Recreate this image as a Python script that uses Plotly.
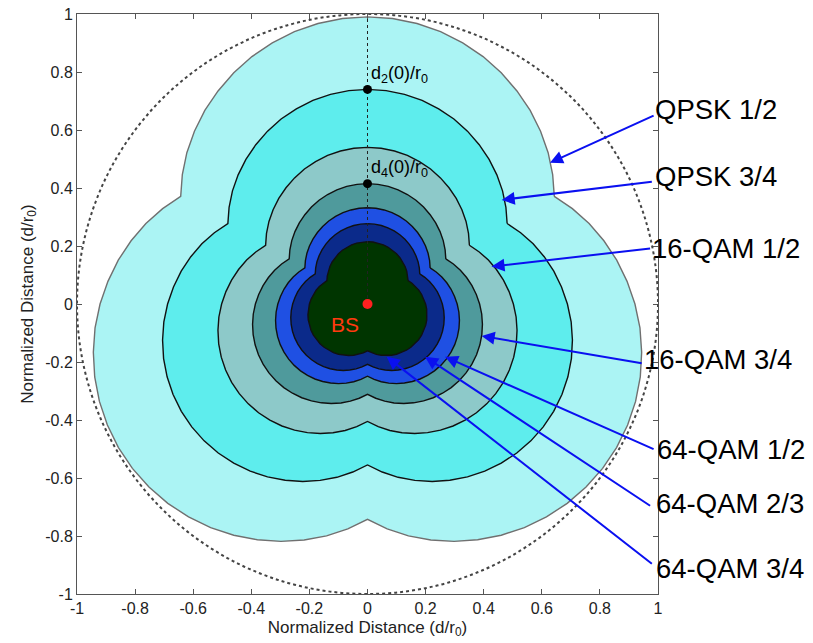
import numpy as np
import plotly.graph_objects as go

# ---------------- data ----------------
schemes = ["QPSK 1/2", "QPSK 3/4", "16-QAM 1/2", "16-QAM 3/4",
           "64-QAM 1/2", "64-QAM 2/3", "64-QAM 3/4"]
# boundary distance on a sector axis, d_k(0)/r0 (outer -> inner)
d_axis = [0.99, 0.74, 0.54, 0.415, 0.332, 0.277, 0.215]
# relative boundary radius vs. angular offset from the sector axis
lobe_offset_deg = [0, 5, 10, 15, 20, 25, 30, 35, 40, 45, 50, 55, 60]
lobe_ratio = [1.000, 0.998, 0.992, 0.982, 0.968, 0.951, 0.930,
              0.906, 0.880, 0.851, 0.820, 0.786, 0.750]
# sector axis directions (degrees, counter-clockwise from +x)
sector_axes_deg = [90, 210, 330]

marked_labels = ["d<sub>2</sub>(0)/r<sub>0</sub>", "d<sub>4</sub>(0)/r<sub>0</sub>"]
marked_index = [1, 3]
tick_vals = [-1, -0.8, -0.6, -0.4, -0.2, 0, 0.2, 0.4, 0.6, 0.8, 1]
tick_text = ["-1", "-0.8", "-0.6", "-0.4", "-0.2", "0", "0.2", "0.4", "0.6", "0.8", "1"]
unit_radius = 1.0

# ---------------- styles / positions ----------------
fill_colors = ["#ABF4F4", "#5EEDED", "#8DC9C9", "#4F9A9C", "#1F50E3", "#0B2A8A", "#003500"]
line_colors = ["#707070", "#111111", "#111111", "#111111", "#111111", "#111111", "#111111"]
label_pos = [(0.993, 0.669), (0.993, 0.438), (0.983, 0.193), (0.955, -0.193),
             (1.000, -0.503), (0.995, -0.689), (0.995, -0.913)]
arrow_tail = [(0.990, 0.652), (0.984, 0.422), (0.978, 0.192), (0.949, -0.205),
              (0.990, -0.503), (0.978, -0.699), (0.984, -0.900)]
arrow_head = [(0.628, 0.487), (0.462, 0.359), (0.427, 0.129), (0.393, -0.110),
              (0.267, -0.182), (0.198, -0.182), (0.066, -0.182)]
FONT = "Liberation Sans, Arial, sans-serif"

# full lobe profile (mirror the half)
off = np.array([-o for o in lobe_offset_deg[::-1]] + lobe_offset_deg[1:], dtype=float)
rat = np.array(lobe_ratio[::-1] + lobe_ratio[1:], dtype=float)

fig = go.Figure()

for name, d, fc, lc in zip(schemes, d_axis, fill_colors, line_colors):
    xs, ys = [], []
    for ax in sector_axes_deg:
        th = np.radians(ax + off)
        r = d * rat
        xs.extend(r * np.cos(th))
        ys.extend(r * np.sin(th))
    xs.append(xs[0]); ys.append(ys[0])
    fig.add_trace(go.Scatter(x=xs, y=ys, mode="lines", fill="toself",
                             fillcolor=fc, line=dict(color=lc, width=1.4),
                             name=name, showlegend=False, hoverinfo="skip"))

# vertical dotted line from BS along sector axis
fig.add_trace(go.Scatter(x=[0, 0], y=[0, unit_radius], mode="lines",
                         line=dict(color="#222222", width=1, dash="dot"),
                         showlegend=False, hoverinfo="skip"))
# marked points d2(0), d4(0)
fig.add_trace(go.Scatter(x=[0 for _ in marked_index], y=[d_axis[i] for i in marked_index],
                         mode="markers", marker=dict(color="black", size=9),
                         showlegend=False, hoverinfo="skip"))
# base station
fig.add_trace(go.Scatter(x=[0], y=[0], mode="markers",
                         marker=dict(color="#FF2020", size=10),
                         showlegend=False, hoverinfo="skip"))

annotations = []
for lbl, i in zip(marked_labels, marked_index):
    annotations.append(dict(x=0.004, y=d_axis[i], yshift=15, text=lbl, showarrow=False,
                            xanchor="left", yanchor="middle",
                            font=dict(family=FONT, size=18, color="black")))
annotations.append(dict(x=-0.077, y=-0.072, text="BS", showarrow=False,
                        font=dict(family=FONT, size=21, color="#FF3A10")))
for name, (lx, ly), (tx, ty), (hx, hy) in zip(schemes, label_pos, arrow_tail, arrow_head):
    annotations.append(dict(x=hx, y=hy, ax=tx, ay=ty, axref="x", ayref="y",
                            xref="x", yref="y", text="", showarrow=True,
                            arrowhead=2, arrowsize=1.3, arrowwidth=2,
                            arrowcolor="#0A10F0", standoff=0))
    annotations.append(dict(x=lx, y=ly, xshift=-2, text=name, showarrow=False,
                            xanchor="left", yanchor="middle", borderpad=0,
                            font=dict(family=FONT, size=27.5, color="black")))

axis_common = dict(range=[-1, 1], tickvals=tick_vals, ticktext=tick_text,
                   showgrid=False, zeroline=False, showline=True, mirror="ticks",
                   linecolor="#555555", linewidth=1, ticks="inside", ticklen=5,
                   tickcolor="#555555", automargin=False, ticklabeloverflow="allow",
                   tickfont=dict(family=FONT, size=16, color="#222222"))

fig.update_layout(
    width=813, height=643,
    margin=dict(l=77, r=155, t=14, b=49, autoexpand=False),
    paper_bgcolor="white", plot_bgcolor="white",
    xaxis=dict(**axis_common,
               title=dict(text="Normalized Distance (d/r<sub>0</sub>)", standoff=4,
                          font=dict(family=FONT, size=17, color="#222222"))),
    yaxis=dict(**axis_common,
               title=dict(text="Normalized Distance (d/r<sub>0</sub>)", standoff=7,
                          font=dict(family=FONT, size=17, color="#222222"))),
    shapes=[dict(type="circle", xref="x", yref="y",
                 x0=-unit_radius, y0=-unit_radius, x1=unit_radius, y1=unit_radius,
                 line=dict(color="#444444", width=2, dash="dot"), layer="above")],
    annotations=annotations,
)

# remove the default page margin so the figure fills the 813x643 window exactly
fig.write_html("out.html", config={"displayModeBar": False},
               post_script="document.body.style.margin='0';document.body.style.overflow='hidden';")
